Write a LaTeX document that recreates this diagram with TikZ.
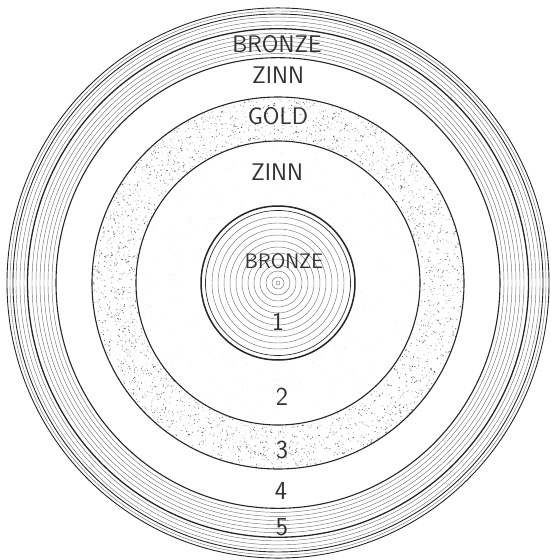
\documentclass[tikz,border=0pt]{standalone}
\usepackage{fontspec}
\newcommand\lblfont{\sffamily\fontsize{24}{24}\selectfont\addfontfeatures{LetterSpace=16}}
\newcommand\corefont{\sffamily\fontsize{21}{21}\selectfont\addfontfeatures{LetterSpace=12}}
\newcommand\numfont{\sffamily\fontsize{26}{26}\selectfont}
\begin{document}
\begin{tikzpicture}[x=1pt,y=-1pt,
  thinl/.style={line width=0.45pt,draw=black!55},
  darkl/.style={line width=1.1pt,draw=black!85},
  lbl/.style={font=\lblfont,inner sep=0pt,text=black!80},
  corelbl/.style={font=\corefont,inner sep=0pt,text=black!80},
  numlbl/.style={font=\numfont,inner sep=0pt,text=black!80}]
\useasboundingbox (0,0) rectangle (551,560);
\coordinate (C) at (278,283);
% gold ring stipple
\pgfmathsetseed{7}
\foreach \i in {1,...,3200}{
  \pgfmathsetmacro\a{360*rnd}
  \pgfmathsetmacro\rr{100*sqrt(2.0164+rnd*1.4432)}
  \pgfmathsetmacro\s{0.3+0.4*rnd}
  \pgfmathsetmacro\o{0.2+0.5*rnd}
  \fill[black,opacity=\o] ([shift={(C)}]\a:\rr) circle (\s);
}
% faint speckle in the inner zinn ring
\foreach \i in {1,...,250}{
  \pgfmathsetmacro\a{360*rnd}
  \pgfmathsetmacro\rr{100*sqrt(0.62+rnd*1.38)}
  \fill[black,opacity=0.15] ([shift={(C)}]\a:\rr) circle (0.35);
}
\draw[line width=1.1pt,black!85] (C) circle (142);
\draw[line width=1.1pt,black!85] (C) circle (186);
% outer band
\foreach \r in {226,230,234,238,242,246,254,258,262,268}
  \draw[thinl] (C) ellipse ({\r} and {1.015*\r});
\draw[darkl] (C) ellipse (222 and {1.015*222});
\draw[line width=1.3pt,black!85] (C) ellipse (250.5 and {1.015*250.5});
\draw[line width=0.9pt,black!85] (C) ellipse (265 and {1.015*265});
\draw[line width=0.9pt,black!85] (C) ellipse (271 and {1.015*271});
% core
\draw[line width=0.4pt,black!60] (C) circle (2);
\foreach \r in {6,12,...,66}
  \draw[thinl] (C) circle (\r);
\draw[line width=0.7pt,black!80] (C) circle (72.5);
\draw[line width=1.5pt,black!85] (C) circle (77);
% labels
\node[lbl] (b5) at (277,44) {BRONZE};
\node[lbl] (z4) at (278,75) {ZINN};
\node[lbl] (g3) at (278,116) {GOLD};
\node[lbl] (z2) at (277,172) {ZINN};
\node[corelbl] (b1) at (284,261) {BRONZE};
\node[numlbl] (n1) at (278,322) {1};
\node[numlbl] (n2) at (282,397) {2};
\node[numlbl] (n3) at (282,450) {3};
\node[numlbl] (n4) at (281,491) {4};
\node[numlbl] (n5) at (282,527) {5};
\end{tikzpicture}
\end{document}
